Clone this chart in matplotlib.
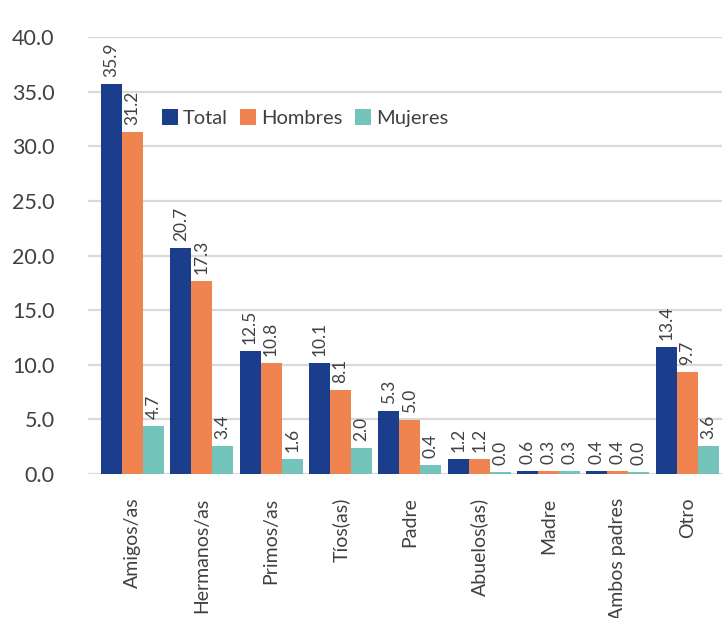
import matplotlib
matplotlib.use("Agg")
from matplotlib import pyplot as plt
import numpy as np

plt.rcParams["font.family"] = ["Lato", "DejaVu Sans"]

categories = ["Amigos/as", "Hermanos/as", "Primos/as", "Tíos(as)", "Padre",
              "Abuelos(as)", "Madre", "Ambos padres", "Otro"]
series_names = ["Total", "Hombres", "Mujeres"]

# bar heights as drawn in the chart
total_bars = [35.7, 20.7, 11.3, 10.15, 5.8, 1.4, 0.25, 0.25, 11.6]
hombres_bars = [31.3, 17.7, 10.2, 7.7, 4.95, 1.4, 0.25, 0.25, 9.3]
mujeres_bars = [4.4, 2.6, 1.4, 2.4, 0.85, 0.2, 0.25, 0.2, 2.6]

# data labels as printed in the chart
total_labels = ["35.9", "20.7", "12.5", "10.1", "5.3", "1.2", "0.6", "0.4", "13.4"]
hombres_labels = ["31.2", "17.3", "10.8", "8.1", "5.0", "1.2", "0.3", "0.4", "9.7"]
mujeres_labels = ["4.7", "3.4", "1.6", "2.0", "0.4", "0.0", "0.3", "0.0", "3.6"]

y_ticks = [0, 5, 10, 15, 20, 25, 30, 35, 40]

my_color = {"Total": "#1b3e8c",
            "Hombres": "#ef8450",
            "Mujeres": "#73c4ba"}
text_color = "#404040"

fig = plt.figure(figsize=(7.22, 6.18), dpi=100)
ax = fig.add_axes([88 / 722, 1 - 474 / 618, 634 / 722, (474 - 37) / 618])

x = np.arange(len(categories))
w = 0.303
bars_all = [total_bars, hombres_bars, mujeres_bars]
labels_all = [total_labels, hombres_labels, mujeres_labels]
for i, name in enumerate(series_names):
    xs = x + (i - 1) * w
    ax.bar(xs, bars_all[i], width=w, color=my_color[name], label=name,
           zorder=3, clip_on=False)
    for xi, h, lab in zip(xs, bars_all[i], labels_all[i]):
        ax.annotate(lab, (xi, h), xytext=(0, 5), textcoords="offset points",
                    rotation=90, ha="center", va="bottom", fontsize=12.5,
                    color=text_color)

ax.set_xlim(-0.64, 8.5)
ax.set_ylim(0, 40)
ax.set_yticks(y_ticks)
ax.set_yticklabels(["%.1f" % v for v in y_ticks])
ax.set_xticks(x)
ax.set_xticklabels(categories, rotation=90, va="top")
ax.tick_params(axis="y", length=0, pad=24, labelsize=15.5, colors=text_color)
ax.tick_params(axis="x", length=0, pad=17, labelsize=14, colors=text_color)
ax.grid(axis="y", color="#d9d9d9", linewidth=1.6, zorder=0)
ax.set_axisbelow(True)
for s in ax.spines.values():
    s.set_visible(False)

leg = ax.legend(loc="center left", bbox_to_anchor=((162 - 88) / 634, (474 - 118) / 437),
                ncol=3, frameon=False, fontsize=14.5, handlelength=0.8,
                handleheight=0.8, handletextpad=0.25, columnspacing=0.6,
                borderpad=0, borderaxespad=0)
for t in leg.get_texts():
    t.set_color(text_color)

plt.savefig("out.png", dpi=100)
